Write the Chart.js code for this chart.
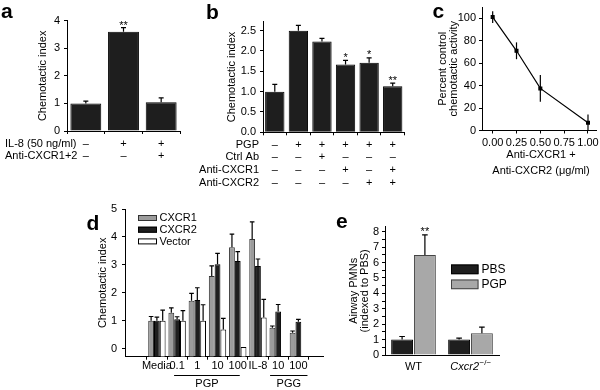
<!DOCTYPE html>
<html>
<head>
<meta charset="utf-8">
<script src="https://cdn.jsdelivr.net/npm/chart.js@4.4.1/dist/chart.umd.min.js"></script>
<style>
body{margin:0;background:#fff;}
#wrap{position:relative;width:600px;height:390px;}
#wrap canvas{position:absolute;left:0;top:0;}
</style>
</head>
<body>
<div id="wrap">
<canvas id="ca" width="600" height="390"></canvas>
<canvas id="cb" width="600" height="390"></canvas>
<canvas id="cc" width="600" height="390"></canvas>
<canvas id="cd" width="600" height="390"></canvas>
<canvas id="ce" width="600" height="390"></canvas>
</div>
<script>
// ---- panel a
const aRows = ['IL-8 (50 ng/ml)', 'Anti-CXCR1+2']
const aLabels = [['–', '–'], ['+', '–'], ['+', '+']]
const aValues = [1.0, 3.6, 1.04]
const aErrors = [0.08, 0.15, 0.16]
const aStars = ['', '**', '']

// ---- panel b
const bRows = ['PGP', 'Ctrl Ab', 'Anti-CXCR1', 'Anti-CXCR2']
const bLabels = [['–', '–', '–', '–'], ['+', '–', '–', '–'], ['+', '+', '–', '–'], ['+', '–', '+', '–'], ['+', '–', '–', '+'], ['+', '–', '+', '+']]
const bValues = [1.0, 2.5, 2.23, 1.67, 1.71, 1.13]
const bErrors = [0.18, 0.13, 0.08, 0.1, 0.12, 0.08]
const bStars = ['', '', '', '*', '*', '**']

// ---- panel c
const cDoses = [0, 0.25, 0.5, 1.0]
const cValues = [101, 71, 37.5, 7]
const cErrors = [5.2, 7.5, 12, 7.3]
const cXTitle = ['Anti-CXCR1 +', 'Anti-CXCR2 (μg/ml)']

// ---- panel d
const dLabels = ['Media', '0.1', '1', '10', '100', 'IL-8', '10', '100']
const dCXCR1 = [1.0, 1.28, 1.71, 2.6, 3.63, 3.93, 0.75, 0.57]
const dCXCR1Err = [0.15, 0.18, 0.27, 0.36, 0.47, 0.61, 0.06, 0.06]
const dCXCR2 = [1.0, 1.05, 1.74, 3.02, 3.14, 2.96, 1.33, 0.96]
const dCXCR2Err = [0.13, 0.09, 0.44, 0.39, 0.33, 0.25, 0.25, 0.09]
const dVector = [1.0, 1.0, 1.0, 0.68, 0.06, 1.11, null, null]
const dVectorErr = [0.38, 0.36, 0.57, 0.4, 0, 0.65, 0, 0]
const dGroups = [['PGP', 0.85, 4.1], ['PGG', 5.6, 7.45]]

// ---- panel e
const eLabels = ['WT', 'Cxcr2']
const ePBS = [1.0, 1.0]
const ePBSErr = [0.2, 0.1]
const ePGP = [6.5, 1.41]
const ePGPErr = [1.3, 0.4]
const eStars = ['**', '']

const FONT = "'Liberation Sans', Arial, Helvetica, sans-serif"
Chart.defaults.font.family = FONT
Chart.defaults.font.size = 11
Chart.defaults.color = '#000'
Chart.defaults.animation = false
Chart.defaults.responsive = false
Chart.defaults.plugins.legend.display = false
Chart.defaults.plugins.tooltip.enabled = false
Chart.defaults.layout.autoPadding = false

const BAR_BLACK = '#1e1e1e'
const BAR_GRAY = '#9c9c9c'

function fixW(w){
  return s=>{ s.width=w; s.paddingTop=s.paddingBottom=s.paddingLeft=s.paddingRight=0 }
}
function fixH(h){
  return s=>{ s.height=h; s.paddingTop=s.paddingBottom=s.paddingLeft=s.paddingRight=0 }
}
function grid(extra){
  return Object.assign({drawOnChartArea:false, color:'#000', tickLength:3, lineWidth:1}, extra||{})
}
const border = {color:'#000', width:1}

function text(ctx, s, x, y, font, align, baseline){
  ctx.save()
  ctx.font = font || ('11px ' + FONT)
  ctx.fillStyle = '#000'
  ctx.textAlign = align || 'left'
  ctx.textBaseline = baseline || 'middle'
  ctx.fillText(s, x, y)
  ctx.restore()
}

function letter(ctx, s, x, y){
  text(ctx, s, x, y, 'bold 21px ' + FONT, 'left', 'alphabetic')
}

function drawErrors(chart, sets, cap, both){
  const ctx = chart.ctx, ys = chart.scales.y
  ctx.save()
  ctx.strokeStyle = '#000'
  ctx.lineWidth = 1.2
  sets.forEach(([vals, errs], di)=>{
    const meta = chart.getDatasetMeta(di)
    vals.forEach((v, j)=>{
      const e = errs[j]
      if(v == null || !e) return
      const x = meta.data[j].x
      const top = ys.getPixelForValue(v + e)
      const bot = ys.getPixelForValue(both ? v - e : v)
      ctx.beginPath()
      ctx.moveTo(x, bot)
      ctx.lineTo(x, top)
      if(cap){
        ctx.moveTo(x - cap, top)
        ctx.lineTo(x + cap, top)
      }
      ctx.stroke()
    })
  })
  ctx.restore()
}

function drawStars(chart, di, vals, errs, stars, lift){
  const ys = chart.scales.y, meta = chart.getDatasetMeta(di)
  stars.forEach((s, j)=>{
    if(!s) return
    text(chart.ctx, s, meta.data[j].x, ys.getPixelForValue(vals[j] + errs[j]) + lift, '11px ' + FONT, 'center', 'alphabetic')
  })
}

function rowLabels(chart, rows, x, align, lh, pad){
  const xs = chart.scales.x
  rows.forEach((r, i)=>{
    text(chart.ctx, r, x, xs.top + 3 + pad + lh * (i + 0.5), null, align)
  })
}

/* ======================
   a
====================== */
const A_LH = 12.3, A_PAD = 3.85

new Chart(document.getElementById('ca'), {
  type:'bar',
  data:{
    labels:aLabels,
    datasets:[{data:aValues, backgroundColor:BAR_BLACK, borderColor:'#000', borderWidth:1, categoryPercentage:1, barPercentage:0.82}]
  },
  options:{
    layout:{padding:{left:30, top:20.7, right:420, bottom:220}},
    scales:{
      x:{grid:grid({offset:true}), border, ticks:{padding:A_PAD, autoSkip:false, maxRotation:0, font:{lineHeight:A_LH + 'px'}}, afterFit:fixH(39)},
      y:{min:0, max:4, grid:grid(), border, ticks:{stepSize:1, padding:4, autoSkip:false},
        title:{display:true, text:'Chemotactic index', padding:{top:7.5, bottom:0}, font:{lineHeight:1}}, afterFit:fixW(37)}
    }
  },
  plugins:[{
    id:'aDeco',
    afterDatasetsDraw(chart){
      drawErrors(chart, [[aValues, aErrors]], 2.5, false)
      drawStars(chart, 0, aValues, aErrors, aStars, 1)
    },
    afterDraw(chart){
      rowLabels(chart, aRows, 5, 'left', A_LH, A_PAD)
      letter(chart.ctx, 'a', 1, 18)
    }
  }]
})

/* ======================
   b
====================== */
const B_LH = 12.8, B_PAD = 2.8

new Chart(document.getElementById('cb'), {
  type:'bar',
  data:{
    labels:bLabels,
    datasets:[{data:bValues, backgroundColor:BAR_BLACK, borderColor:'#000', borderWidth:1, categoryPercentage:1, barPercentage:0.82}]
  },
  options:{
    layout:{padding:{left:215, top:21.7, right:195.5, bottom:195}},
    scales:{
      x:{grid:grid({offset:true}), border, ticks:{padding:B_PAD, autoSkip:false, maxRotation:0, font:{lineHeight:B_LH + 'px'}}, afterFit:fixH(62.7)},
      y:{min:0, max:2.72, grid:grid(), border, ticks:{stepSize:0.5, includeBounds:false, padding:4, autoSkip:false, callback:v=>v.toFixed(1)},
        title:{display:true, text:'Chemotactic index', padding:{top:11, bottom:0}, font:{lineHeight:1}}, afterFit:fixW(48)}
    }
  },
  plugins:[{
    id:'bDeco',
    afterDatasetsDraw(chart){
      drawErrors(chart, [[bValues, bErrors]], 2.5, false)
      drawStars(chart, 0, bValues, bErrors, bStars, 0.5)
    },
    afterDraw(chart){
      rowLabels(chart, bRows, 259, 'right', B_LH, B_PAD)
      letter(chart.ctx, 'b', 206, 18.5)
    }
  }]
})

/* ======================
   c
====================== */
new Chart(document.getElementById('cc'), {
  type:'line',
  data:{
    datasets:[{
      data:cDoses.map((x, i)=>({x:x, y:cValues[i]})),
      borderColor:'#000', borderWidth:1.2, tension:0,
      pointStyle:'rect', pointRadius:2, pointBackgroundColor:'#000', pointBorderColor:'#000'
    }]
  },
  options:{
    layout:{padding:{left:420, top:7, right:4, bottom:210}},
    scales:{
      x:{type:'linear', min:-0.112, max:1.084, grid:grid(), border,
        ticks:{stepSize:0.25, includeBounds:false, padding:2.9, autoSkip:false, maxRotation:0, callback:v=>v.toFixed(2)},
        afterFit:fixH(49.5)},
      y:{min:0, max:110, grid:grid(), border, ticks:{stepSize:20, includeBounds:false, padding:3, autoSkip:false},
        title:{display:true, text:['Percent control', 'chemotactic activity'], padding:{top:17.5, bottom:0}, font:{lineHeight:'11px'}},
        afterFit:fixW(62)}
    }
  },
  plugins:[{
    id:'cDeco',
    afterDatasetsDraw(chart){
      drawErrors(chart, [[cValues, cErrors]], 0, true)
    },
    afterDraw(chart){
      const xs = chart.scales.x
      const cx = (xs.left + xs.right) / 2 + 2
      cXTitle.forEach((t, i)=>{
        text(chart.ctx, t, cx, xs.top + 24.5 + i * 16, null, 'center')
      })
      letter(chart.ctx, 'c', 432.5, 18)
    }
  }]
})

/* ======================
   d
====================== */
const D_MIN = -0.29
const dColors = [[BAR_GRAY, '#333'], [BAR_BLACK, '#000'], ['#fff', '#000']]
const dNames = ['CXCR1', 'CXCR2', 'Vector']
const dSeries = [dCXCR1, dCXCR2, dVector]
const dErrs = [dCXCR1Err, dCXCR2Err, dVectorErr]

new Chart(document.getElementById('cd'), {
  type:'bar',
  data:{
    datasets:dSeries.map((vals, k)=>({
      label:dNames[k],
      data:vals.map((y, i)=>({x:i, y:y})),
      backgroundColor:dColors[k][0], borderColor:dColors[k][1], borderWidth:1,
      base:D_MIN, categoryPercentage:0.86, barPercentage:1
    }))
  },
  options:{
    layout:{padding:{left:90, top:209, right:276.7, bottom:5}},
    scales:{
      x:{type:'linear', min:-0.965, max:7.62, grid:grid({offset:true}), border,
        ticks:{stepSize:1, includeBounds:false, padding:0, autoSkip:false, maxRotation:0, callback:v=>dLabels[v] ?? ''},
        afterFit:fixH(28.3)},
      y:{min:D_MIN, max:5, grid:grid(), border, ticks:{stepSize:1, includeBounds:false, padding:5, autoSkip:false},
        title:{display:true, text:'Chemotactic index', padding:{top:7.8, bottom:0}, font:{lineHeight:1}}, afterFit:fixW(35)}
    }
  },
  plugins:[{
    id:'dDeco',
    afterDatasetsDraw(chart){
      drawErrors(chart, dSeries.map((v, k)=>[v, dErrs[k]]), 2.3, false)
    },
    afterDraw(chart){
      const ctx = chart.ctx, xs = chart.scales.x
      // legend
      dNames.forEach((n, k)=>{
        const y = 215 + k * 11.7
        ctx.save()
        ctx.fillStyle = dColors[k][0]
        ctx.strokeStyle = dColors[k][1]
        ctx.lineWidth = 1
        ctx.fillRect(138, y, 19, 6)
        ctx.strokeRect(138.5, y + 0.5, 18, 5)
        ctx.restore()
        text(ctx, n, 159.5, y + 3.3)
      })
      // group underlines
      dGroups.forEach(([name, from, to])=>{
        const x1 = xs.getPixelForValue(from), x2 = xs.getPixelForValue(to)
        ctx.save()
        ctx.strokeStyle = '#000'
        ctx.lineWidth = 1.2
        ctx.beginPath()
        ctx.moveTo(x1, 375.5)
        ctx.lineTo(x2, 375.5)
        ctx.stroke()
        ctx.restore()
        text(ctx, name, (x1 + x2) / 2, 384, null, 'center')
      })
      letter(ctx, 'd', 86.5, 230)
    }
  }]
})

/* ======================
   e
====================== */
const eSets = [['PBS', ePBS, ePBSErr, BAR_BLACK, '#000'], ['PGP', ePGP, ePGPErr, '#a8a8a8', '#444']]

new Chart(document.getElementById('ce'), {
  type:'bar',
  data:{
    labels:eLabels,
    datasets:eSets.map(s=>({
      label:s[0], data:s[1], backgroundColor:s[3], borderColor:s[4], borderWidth:1,
      categoryPercentage:0.8, barPercentage:0.96
    }))
  },
  options:{
    layout:{padding:{left:340, top:226.7, right:101, bottom:10}},
    scales:{
      x:{grid:grid({offset:true, drawTicks:false}), border, ticks:{display:false}, afterFit:fixH(25)},
      y:{min:0, max:8.33, grid:grid(), border,
        ticks:{stepSize:0.5, includeBounds:false, maxTicksLimit:50, padding:3, autoSkip:false, callback:v=>Number.isInteger(v) ? v : ''},
        title:{display:true, text:['Airway PMNs', '(indexed to PBS)'], padding:{top:8.75, bottom:0}, font:{lineHeight:'10.5px'}},
        afterFit:fixW(45)}
    }
  },
  plugins:[{
    id:'eDeco',
    afterDatasetsDraw(chart){
      drawErrors(chart, eSets.map(s=>[s[1], s[2]]), 2.8, false)
      drawStars(chart, 1, ePGP, ePGPErr, eStars, 0.5)
    },
    afterDraw(chart){
      const ctx = chart.ctx, xs = chart.scales.x
      // x labels
      text(ctx, eLabels[0], xs.getPixelForValue(0), 367, null, 'center')
      ctx.save()
      ctx.font = 'italic 11px ' + FONT
      const w1 = ctx.measureText(eLabels[1]).width
      ctx.font = '8px ' + FONT
      const sup = '−/−'
      const w2 = ctx.measureText(sup).width
      ctx.restore()
      const cx = xs.getPixelForValue(1)
      const x0 = cx - (w1 + w2) / 2
      text(ctx, eLabels[1], x0, 367, 'italic 11px ' + FONT)
      text(ctx, sup, x0 + w1 + 0.5, 362.5, '8px ' + FONT)
      // legend
      eSets.forEach((s, k)=>{
        const y = 264.5 + k * 15
        ctx.save()
        ctx.fillStyle = s[3]
        ctx.strokeStyle = s[4]
        ctx.fillRect(451, y, 27.5, 9.7)
        ctx.strokeRect(451.5, y + 0.5, 26.5, 8.7)
        ctx.restore()
        text(ctx, s[0], 481.5, y + 5, '12px ' + FONT)
      })
      letter(ctx, 'e', 336, 228)
    }
  }]
})
</script>
</body>
</html>
